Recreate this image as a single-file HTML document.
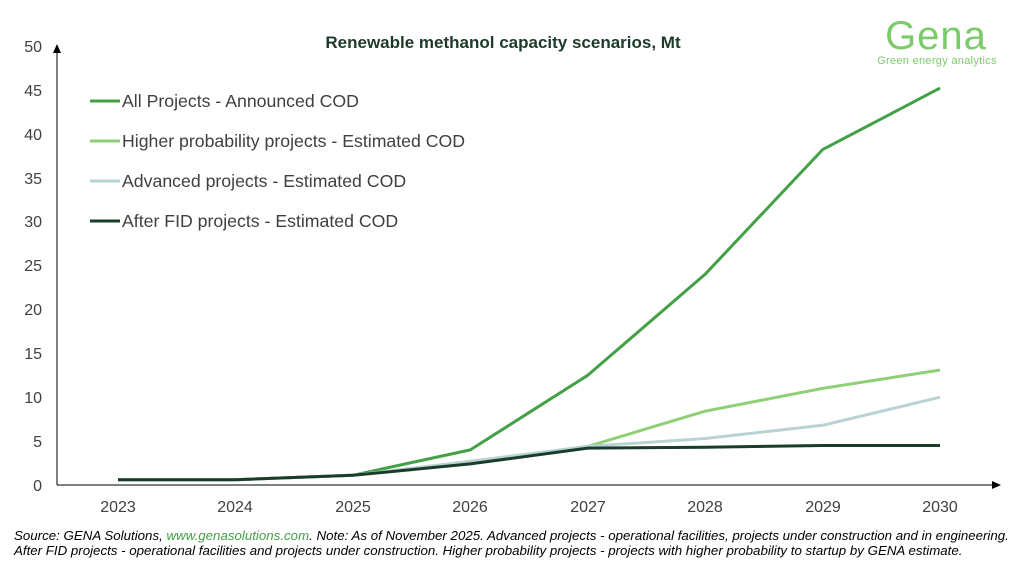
<!DOCTYPE html>
<html><head><meta charset="utf-8"><style>
body{margin:0;background:#fff;}
svg text{font-family:"Liberation Sans",Arial,sans-serif;}
</style></head><body>
<svg width="1024" height="570" viewBox="0 0 1024 570" xmlns="http://www.w3.org/2000/svg">
<rect width="1024" height="570" fill="#fff"/>
<text x="503" y="48" font-size="17" font-weight="bold" text-anchor="middle" fill="#1e3a2c">Renewable methanol capacity scenarios, Mt</text>
<text x="936" y="49" font-size="40" text-anchor="middle" fill="#7ccb6a" letter-spacing="1">Gena</text>
<text x="937" y="64" font-size="11" text-anchor="middle" fill="#7ccb6a" letter-spacing="0.3">Green energy analytics</text>
<g font-size="16" fill="#404040" text-anchor="end">
<text x="42" y="491">0</text><text x="42" y="447">5</text><text x="42" y="403">10</text><text x="42" y="359">15</text><text x="42" y="315">20</text><text x="42" y="271">25</text><text x="42" y="227">30</text><text x="42" y="184">35</text><text x="42" y="140">40</text><text x="42" y="96">45</text><text x="42" y="52">50</text>
</g>
<g font-size="16" fill="#404040" text-anchor="middle">
<text x="118" y="512">2023</text><text x="235" y="512">2024</text><text x="353" y="512">2025</text><text x="470" y="512">2026</text><text x="588" y="512">2027</text><text x="705" y="512">2028</text><text x="823" y="512">2029</text><text x="940" y="512">2030</text>
</g>
<line x1="57" y1="485" x2="57" y2="50" stroke="#000" stroke-width="1"/>
<polygon points="57,44 53,53 61,53" fill="#000"/>
<line x1="57" y1="485" x2="995" y2="485" stroke="#000" stroke-width="1"/>
<polygon points="1001,485 992,481 992,489" fill="#000"/>
<g fill="none" stroke-width="3" stroke-linejoin="round">
<polyline stroke="#43a047" points="118,479.7 235.4,479.7 352.9,475.3 470.3,449.9 587.7,375.3 705.1,274.3 822.6,149.6 940,88.1"/>
<polyline stroke="#8fcf76" points="118,479.7 235.4,479.7 352.9,475.3 470.3,462.2 587.7,446.4 705.1,411.2 822.6,388.4 940,370"/>
<polyline stroke="#b9d3d3" points="118,479.7 235.4,479.7 352.9,475.3 470.3,461.3 587.7,446.4 705.1,438.5 822.6,425.3 940,397.2"/>
<polyline stroke="#1a3d2b" points="118,479.7 235.4,479.7 352.9,475.3 470.3,463.9 587.7,448.1 705.1,447.2 822.6,445.5 940,445.5"/>
</g>
<g stroke-width="3">
<line x1="90" y1="101" x2="120" y2="101" stroke="#43a047"/>
<line x1="90" y1="141" x2="120" y2="141" stroke="#8fcf76"/>
<line x1="90" y1="181" x2="120" y2="181" stroke="#b9d3d3"/>
<line x1="90" y1="221" x2="120" y2="221" stroke="#1a3d2b"/>
</g>
<g font-size="17.7" fill="#404040">
<text x="122" y="107">All Projects - Announced COD</text>
<text x="122" y="147">Higher probability projects - Estimated COD</text>
<text x="122" y="187">Advanced projects - Estimated COD</text>
<text x="122" y="227">After FID projects - Estimated COD</text>
</g>
<g font-size="13.3" font-style="italic" fill="#000">
<text x="14" y="540">Source: GENA Solutions, <tspan fill="#43a047">www.genasolutions.com</tspan>. Note: As of November 2025. Advanced projects - operational facilities, projects under construction and in engineering.</text>
<text x="14" y="555">After FID projects - operational facilities and projects under construction. Higher probability projects - projects with higher probability to startup by GENA estimate.</text>
</g>
</svg>
</body></html>
